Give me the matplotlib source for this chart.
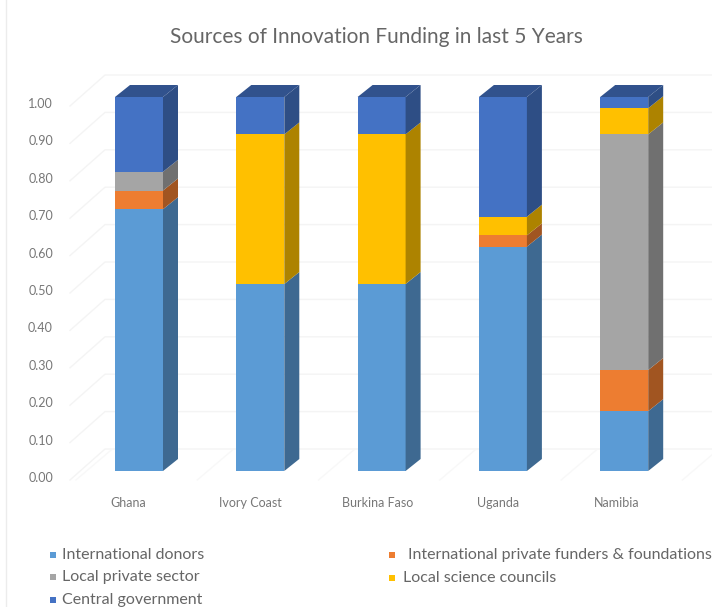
import matplotlib
matplotlib.use('Agg')
import matplotlib.pyplot as plt
from matplotlib.colors import to_rgb

countries = ['Ghana', 'Ivory Coast', 'Burkina Faso', 'Uganda', 'Namibia']
sources = ['International donors', 'International private funders & foundations',
           'Local private sector', 'Local science councils', 'Central government']
intl_donors = [0.70, 0.50, 0.50, 0.60, 0.16]
intl_private = [0.05, 0.00, 0.00, 0.03, 0.11]
local_private = [0.05, 0.00, 0.00, 0.00, 0.63]
science_councils = [0.00, 0.40, 0.40, 0.05, 0.07]
central_gov = [0.20, 0.10, 0.10, 0.32, 0.03]
series = [intl_donors, intl_private, local_private, science_councils, central_gov]
colors = ['#5B9BD5', '#ED7D31', '#A5A5A5', '#FFC000', '#4472C4']
yticks = [i / 10 for i in range(11)]

W, H = 712, 607
PX_X = 121.3   # pixels per category
PX_Y = 374.0   # pixels per 1.00
X0, Y0 = 139.0, 471.0

# the 3D look is faked with a fixed depth offset in data units
DX = 15 / PX_X
DY = 12 / PX_Y
BAR_W = 48 / PX_X
WALL_DX = 34 / PX_X
WALL_DY = 22 / PX_Y

fig = plt.figure(figsize=(W / 100, H / 100), dpi=100)
plt.rcParams['font.family'] = ['Lato', 'DejaVu Sans']
ax = fig.add_axes([0, 0, 1, 1])
ax.set_xlim(-X0 / PX_X, (W - X0) / PX_X)
ax.set_ylim(-(H - Y0) / PX_Y, Y0 / PX_Y)
ax.axis('off')


def shade(c, f):
    return tuple(v * f for v in to_rgb(c))


def xpx(p):
    return (p - X0) / PX_X


def ypx(p):
    return (Y0 - p) / PX_Y


# frame edge on the left
ax.plot([xpx(6), xpx(6)], [ypx(0), ypx(607)], color='#ececec', lw=1)

# wall gridlines with the diagonal floor part
wall_left = xpx(105)
for v in yticks:
    ax.plot([xpx(70), wall_left, xpx(712)],
            [v - 9 / PX_Y, v + WALL_DY, v + WALL_DY],
            color='#f4f4f4', lw=1, zorder=1)
    ax.text(xpx(53), v - 7 / PX_Y, f'{v:.2f}', ha='right', va='center',
            fontsize=9, color='#777777')

# floor lines
for i in range(len(countries) + 1):
    x = i - 0.5
    ax.plot([x - 0.02, x + WALL_DX], [-9 / PX_Y, WALL_DY], color='#f8f8f8', lw=1, zorder=1)

for i, name in enumerate(countries):
    bottom = 0.0
    for vals, c in zip(series, colors):
        v = vals[i]
        if v <= 0:
            continue
        right = i + BAR_W / 2
        ax.bar(i, v, BAR_W, bottom=bottom, color=c, zorder=3)
        ax.fill([right, right + DX, right + DX, right],
                [bottom, bottom + DY, bottom + v + DY, bottom + v],
                color=shade(c, 0.68), lw=0, zorder=3)
        bottom += v
    left = i - BAR_W / 2
    ax.fill([left, left + DX, left + BAR_W + DX, left + BAR_W],
            [bottom, bottom + DY, bottom + DY, bottom],
            color=shade(colors[4], 0.72), lw=0, zorder=3)

label_px = [128, 250, 378, 498, 617]
for name, x in zip(countries, label_px):
    ax.text(xpx(x), ypx(503), name, ha='center', va='center', fontsize=9, color='#777777')

ax.text(xpx(376), ypx(37), 'Sources of Innovation Funding in last 5 Years',
        ha='center', va='center', fontsize=15, color='#666666')

# legend laid out by hand, two columns then one leftover row
legend_pos = [(53, 62, 555), (392, 408, 555), (53, 62, 577), (392, 403, 578), (53, 62, 600)]
for src, c, (mx, tx, y) in zip(sources, colors, legend_pos):
    ax.scatter([xpx(mx)], [ypx(y)], marker='s', s=22, color=c, lw=0)
    ax.text(xpx(tx), ypx(y), src, ha='left', va='center', fontsize=11.5, color='#666666')

fig.savefig('out.png', dpi=100)
